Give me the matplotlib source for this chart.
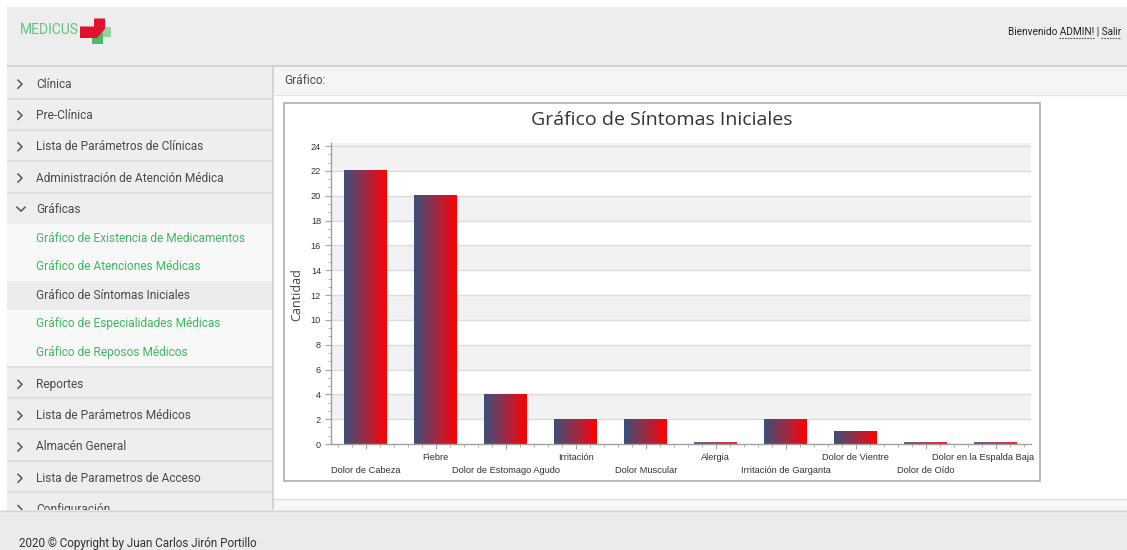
import numpy as np
import matplotlib
matplotlib.use('Agg')
import matplotlib.pyplot as plt
from matplotlib.patches import Rectangle, Polygon
from matplotlib.ticker import MultipleLocator, FixedLocator
from matplotlib.colors import LinearSegmentedColormap
from matplotlib.transforms import ScaledTranslation

# ---------------- data ----------------
categories = ["Dolor de Cabeza", "Fiebre", "Dolor de Estomago Agudo", "Irritación",
              "Dolor Muscular", "Alergia", "Irritación de Garganta", "Dolor de Vientre",
              "Dolor de Oído", "Dolor en la Espalda Baja"]
values = [22, 20, 4, 2, 2, 0, 2, 1, 0, 0]
y_ticks = list(range(0, 25, 2))
chart_title = "Gráfico de Síntomas Iniciales"
y_label = "Cantidad"

menu_top = ["Clínica", "Pre-Clínica", "Lista de Parámetros de Clínicas",
            "Administración de Atención Médica"]
menu_open = "Gráficas"
submenu = ["Gráfico de Existencia de Medicamentos", "Gráfico de Atenciones Médicas",
           "Gráfico de Síntomas Iniciales", "Gráfico de Especialidades Médicas",
           "Gráfico de Reposos Médicos"]
submenu_active = 2
menu_bottom = ["Reportes", "Lista de Parámetros Médicos", "Almacén General",
               "Lista de Parametros de Acceso", "Configuración"]

W, H = 1127, 550
fig = plt.figure(figsize=(W / 100, H / 100), dpi=100)
fig.patch.set_facecolor('white')
bg = fig.add_axes([0, 0, 1, 1])
bg.set_xlim(0, W)
bg.set_ylim(H, 0)
bg.axis('off')

UI = 'Roboto'


def rect(x0, y0, x1, y1, fc, ec='none', lw=0, z=1):
    bg.add_patch(Rectangle((x0, y0), x1 - x0, y1 - y0, facecolor=fc, edgecolor=ec, lw=lw, zorder=z))


def hline(x0, x1, y, c, lw=1, z=2, ls='-'):
    bg.plot([x0, x1], [y, y], color=c, lw=lw, zorder=z, ls=ls, solid_capstyle='butt')


def chevron_right(x, y):
    bg.plot([x - 2, x + 2, x - 2], [y - 4, y, y + 4], color='#555555', lw=1.1, zorder=5)


def chevron_down(x, y):
    bg.plot([x - 4, x, x + 4], [y - 2, y + 2, y - 2], color='#555555', lw=1.1, zorder=5)


# ---------------- header ----------------
rect(7, 7, W, 65, '#ededed')
hline(7, W, 65.5, '#c9c9c9', lw=1.2)
bg.text(20, 30, "MEDICUS", fontfamily=UI, fontsize=10, color='#62c283',
        va='center', ha='left', zorder=5)
# logo cross
bg.add_patch(Polygon([(100, 27), (111, 27), (111, 36.5), (100, 36.5)], closed=True, fc='#93d6a4', ec='none', zorder=4))
bg.add_patch(Polygon([(92, 33), (103, 33), (103, 43.5), (92, 43.5)], closed=True, fc='#4db86a', ec='none', zorder=4))
bg.add_patch(Polygon([(94, 18.5), (105, 18.5), (105, 29), (97, 38), (80, 38), (80, 26.5), (94, 26.5)],
                     closed=True, fc='#e3122c', ec='none', zorder=5))
bg.text(1121, 32, "Bienvenido ADMIN! | Salir", fontfamily=UI, fontsize=7.2, color='#222222',
        ha='right', va='center', zorder=5)
hline(1059, 1094, 37.5, '#555555', lw=0.8, ls=(0, (1.5, 1)))
hline(1101, 1121, 37.5, '#555555', lw=0.8, ls=(0, (1.5, 1)))

# ---------------- sidebar ----------------
rect(7, 67, 272, 510, '#eeeeee')
rect(272, 67, 273.5, 510, '#d4d4d4')
row_h = 31.3
y = 67.5
rows = []
for name in menu_top:
    rows.append((name, y, y + row_h))
    y += row_h
for name, y0, y1 in rows:
    chevron_right(20, (y0 + y1) / 2 + 1)
    bg.text(36, (y0 + y1) / 2 + 1, name, fontfamily=UI, fontsize=8.6, color='#4a4a4a', va='center', zorder=5)
    hline(7, 272, y1, '#dddddd', lw=1.2)
# open section
gy0, gy1 = y, y + 31
chevron_down(21, (gy0 + gy1) / 2 + 1)
bg.text(36, (gy0 + gy1) / 2 + 1, menu_open, fontfamily=UI, fontsize=8.6, color='#4a4a4a', va='center', zorder=5)
sub_y0 = gy1
sub_h = 28.6
rect(7, sub_y0, 272, sub_y0 + sub_h * len(submenu), '#f8f8f8', z=1.5)
for i, name in enumerate(submenu):
    ya = sub_y0 + i * sub_h
    if i == submenu_active:
        rect(7, ya, 272, ya + sub_h, '#ececec', z=1.6)
        col = '#4a4a4a'
    else:
        col = '#3cb95f'
    bg.text(36, ya + sub_h / 2, name, fontfamily=UI, fontsize=8.6, color=col, va='center', zorder=5)
y = sub_y0 + sub_h * len(submenu)
hline(7, 272, y, '#dddddd', lw=1.2)
for name in menu_bottom:
    y0, y1 = y, y + row_h
    chevron_right(20, (y0 + y1) / 2 + 2)
    bg.text(36, (y0 + y1) / 2 + 2, name, fontfamily=UI, fontsize=8.6, color='#4a4a4a', va='center', zorder=5)
    hline(7, 272, y1, '#dddddd', lw=1.2)
    y = y1

# ---------------- content panel ----------------
rect(274, 67, W, 94, '#f5f5f5')
hline(274, W, 94.5, '#e2e2e2', lw=1)
rect(274, 95, W, 498, 'white')
hline(274, W, 498.5, '#dcdcdc', lw=1)
rect(274, 499, W, 510, '#f7f7f7')
bg.text(284, 81, "Gráfico:", fontfamily=UI, fontsize=8.6, color='#4a4a4a', va='center', zorder=5)
# chart frame
rect(283.5, 102.5, 1039.5, 481, 'white', ec='#a6a6a6', lw=1.1, z=2)

# ---------------- footer ----------------
rect(0, 510, W, H, '#ebebeb', z=6)
hline(0, W, 510.5, '#d6d6d6', lw=1, z=7)
bg.text(19, 543, "2020 © Copyright by Juan Carlos Jirón Portillo", fontfamily=UI, fontsize=8.4,
        color='#333333', va='center', zorder=8)

# ---------------- chart ----------------
bg.text(661.5, 120, chart_title, fontfamily='Open Sans', fontsize=14, color='#333333',
        ha='center', va='center', zorder=5)
bg.text(297, 295, y_label, fontfamily='Open Sans', fontsize=9, color='#444444',
        ha='center', va='center', rotation=90, zorder=5)

px0, py0, px1, py1 = 330.7, 143, 1030.7, 444
ax = fig.add_axes([px0 / W, 1 - py1 / H, (px1 - px0) / W, (py1 - py0) / H])
ax.set_facecolor('white')

# alternating bands and gridlines
for k in range(len(y_ticks) - 1):
    if k % 2 == 1:
        ax.axhspan(y_ticks[k], y_ticks[k + 1], color='#f2f2f2', lw=0, zorder=0)
ax.axhspan(y_ticks[-1], 24.25, color='#f2f2f2', lw=0, zorder=0)
for t in y_ticks[1:]:
    ax.axhline(t, color='#dcdcdc', lw=1.0, zorder=0.5)

x = np.arange(len(categories))
bars = ax.bar(x, values, width=0.61, color='none', edgecolor='none', lw=0, zorder=3)
cmap = LinearSegmentedColormap.from_list('br', ['#3c5079', '#9c2b47', '#ff0000'])
grad = np.linspace(0, 1, 512).reshape(1, -1)
for b in bars:
    x0 = b.get_x()
    x1 = x0 + b.get_width()
    h = b.get_height()
    if h > 0:
        ax.imshow(grad, extent=[x0, x1, 0, h], aspect='auto', cmap=cmap, zorder=2,
                  interpolation='nearest')
    else:
        # empty category: a thin gradient line sitting on the axis
        ax.imshow(grad, extent=[x0, x1, 0, 0.1], aspect='auto', cmap=cmap, zorder=5,
                  interpolation='nearest', alpha=0.85, clip_on=False)
ax.set_xlim(-0.5, len(categories) - 0.5)
ax.set_ylim(0, 24.25)

for s in ['top', 'right']:
    ax.spines[s].set_visible(False)
for s in ['left', 'bottom']:
    ax.spines[s].set_color('#a0a0a0')
    ax.spines[s].set_linewidth(1.0)
ax.spines['bottom'].set_zorder(4)

ax.set_yticks(y_ticks)
ax.set_yticklabels([str(t) for t in y_ticks], fontfamily='Liberation Sans')
ax.yaxis.set_minor_locator(MultipleLocator(2 / 3))
ax.set_xticks(x)
ax.set_xticklabels(categories, fontfamily='Liberation Sans', fontsize=6.7, color='#333333')
ax.xaxis.set_minor_locator(FixedLocator(
    [v for v in np.arange(-0.4, len(categories) - 0.5, 0.2) if abs(v - round(v)) > 0.05]))
ax.tick_params(axis='y', which='major', length=4, width=0.8, color='#a0a0a0', pad=3,
               labelsize=6.6, labelcolor='#333333')
ax.tick_params(axis='y', which='minor', length=2, width=0.7, color='#b0b0b0')
ax.tick_params(axis='x', which='major', length=3.5, width=0.8, color='#a0a0a0', pad=3.2)
ax.tick_params(axis='x', which='minor', length=2, width=0.7, color='#b0b0b0')
# two staggered label rows
for i, tk in enumerate(ax.xaxis.get_major_ticks()):
    tk.set_pad(3.2 if i % 2 == 1 else 12.6)
# last label nudged inside the chart frame, as in the reference
last = ax.xaxis.get_major_ticks()[-1].label1
last.set_transform(last.get_transform() + ScaledTranslation(-0.125, 0, fig.dpi_scale_trans))

fig.savefig('out.png', dpi=100)
